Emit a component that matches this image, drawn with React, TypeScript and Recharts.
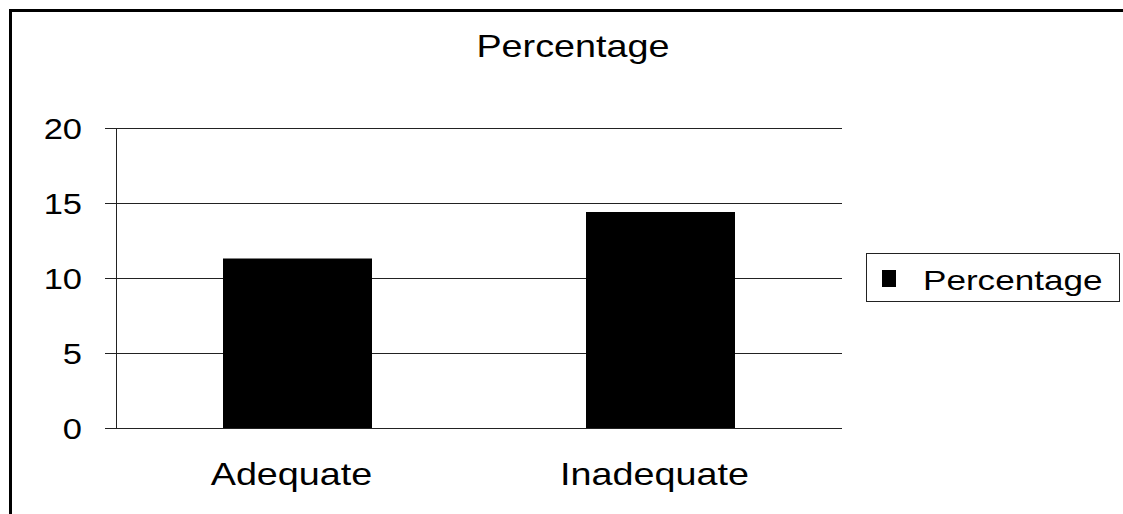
import React from 'react';
import { ComposedChart, Bar, XAxis, YAxis, CartesianGrid, Legend } from 'recharts';

const categories = ['Adequate', 'Inadequate'];
const percentageValues = [11.3, 14.4];
const yTicks = [0, 5, 10, 15, 20];
const edgeTicks = [0, 1, 2];
const seriesName = 'Percentage';
const chartTitle = 'Percentage';

const data = categories.map((c, i) => ({ category: c, Percentage: percentageValues[i] }));

const FONT = '"Liberation Sans", Arial, sans-serif';

const YTick = (props: any) => {
  const { x, y, payload } = props;
  return (
    <text
      transform={`translate(${x},${y}) scale(1.15,1)`}
      textAnchor="end"
      dy={11}
      fontSize={30}
      fontFamily={FONT}
      fill="#000"
    >
      {payload.value}
    </text>
  );
};

const XTick = (props: any) => {
  const { x, y, payload } = props;
  return (
    <text
      transform={`translate(${x - 6},${y}) scale(1.18,1)`}
      textAnchor="middle"
      dy={57}
      fontSize={32}
      fontFamily={FONT}
      fill="#000"
    >
      {payload.value}
    </text>
  );
};

const LegendContent = () => (
  <svg width={254} height={49} style={{ display: 'block' }}>
    <rect x={0.5} y={0.5} width={253} height={48} fill="#fff" stroke="#222" strokeWidth={1} shapeRendering="crispEdges" />
    <rect x={16} y={17} width={14} height={17} fill="#000" />
    <text
      transform="translate(57,37) scale(1.3,1)"
      fontSize={27}
      fontFamily={FONT}
      fill="#000"
    >
      {seriesName}
    </text>
  </svg>
);

const lineStyle = { stroke: '#222', shapeRendering: 'crispEdges' } as any;

export default function App() {
  return (
    <>
      <style>{`html, body { overflow: hidden; }`}</style>
      <div
        style={{
          position: 'fixed',
          left: 9,
          top: 9,
          width: 1200,
          height: 520,
          boxSizing: 'border-box',
          borderLeft: '3px solid #000',
          borderTop: '3px solid #000',
          background: '#fff',
          fontFamily: FONT,
        }}
      >
        <div
          style={{
            position: 'absolute',
            left: 561,
            top: 17.6,
            fontSize: 32,
            lineHeight: 1,
            whiteSpace: 'nowrap',
            transform: 'translateX(-50%) scaleX(1.18)',
            color: '#000',
          }}
        >
          {chartTitle}
        </div>
        <ComposedChart
          width={1111}
          height={502}
          data={data}
          margin={{ top: 116, right: 281, bottom: 0, left: 0 }}
        >
          <CartesianGrid
            xAxisId="cat"
            vertical={false}
            stroke="#222"
            strokeWidth={1}
            shapeRendering="crispEdges"
          />
          <XAxis
            xAxisId="edges"
            type="number"
            domain={[0, 2]}
            ticks={edgeTicks}
            height={0}
            tick={false}
            axisLine={false}
            tickSize={8}
            tickLine={lineStyle}
            allowDataOverflow
          />
          <XAxis
            xAxisId="cat"
            dataKey="category"
            height={86}
            tickLine={false}
            tickSize={0}
            tickMargin={0}
            axisLine={lineStyle}
            tick={<XTick />}
            interval={0}
          />
          <YAxis
            width={104}
            domain={[0, 20]}
            ticks={yTicks}
            interval={0}
            tickSize={11}
            tickMargin={23}
            axisLine={lineStyle}
            tickLine={lineStyle}
            tick={<YTick />}
          />
          <Legend
            layout="vertical"
            align="center"
            verticalAlign="middle"
            content={<LegendContent />}
            wrapperStyle={{ position: 'absolute', left: 854, top: 241, width: 254, height: 49 }}
          />
          <Bar
            xAxisId="cat"
            dataKey="Percentage"
            name={seriesName}
            fill="#000"
            barSize={149}
            isAnimationActive={false}
          />
        </ComposedChart>
      </div>
    </>
  );
}
